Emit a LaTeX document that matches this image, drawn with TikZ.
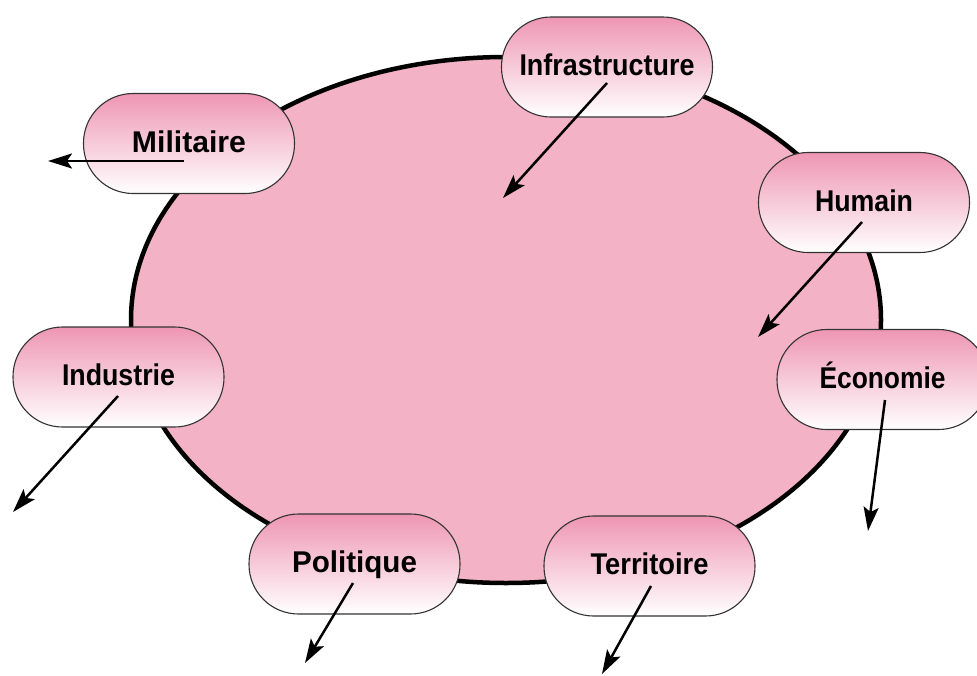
\documentclass[tikz,border=0pt]{standalone}
\usepackage{fontspec}
\setmainfont{Liberation Sans}
\usetikzlibrary{arrows.meta,shapes.geometric}
\definecolor{ellfill}{RGB}{244,178,199}
\definecolor{boxtop}{RGB}{238,150,180}
\newcommand{\boxlabel}[2]{\resizebox{#1pt}{\height}{#2}}
\begin{document}
\begin{tikzpicture}[x=1pt,y=-1pt,
  mainell/.style={ellipse, draw=black, line width=4.5pt, fill=ellfill, minimum width=750pt, minimum height=526pt, inner sep=0pt},
  catbox/.style={draw=black!80, line width=1.1pt, rounded corners=49.5pt, minimum width=211pt, minimum height=100pt, inner sep=0pt, top color=boxtop, bottom color=white},
  cattext/.style={anchor=base, inner sep=0pt, font=\fontsize{30pt}{32pt}\selectfont\bfseries},
  arr/.style={line width=2.5pt, -{Stealth[length=24pt,width=15pt,inset=5pt]}}]
\clip (0,0) rectangle (977,675);
\node[mainell] (ell) at (506,320) {};
% boxes
\node[catbox] (infra) at (607,67) {};
\node[catbox] (mil) at (189,143.5) {};
\node[catbox] (ind) at (118.5,377) {};
\node[catbox] (pol) at (354.5,564) {};
\node[catbox] (ter) at (649.5,566) {};
\node[catbox] (hum) at (864,202.5) {};
\node[catbox] (eco) at (882.5,379.5) {};
% labels
\node[cattext] (tinfra) at ([yshift=-8.5pt]infra.center) {\boxlabel{175}{Infrastructure}};
\node[cattext] (tmil) at ([yshift=-8.5pt]mil.center) {\boxlabel{114}{Militaire}};
\node[cattext] (tind) at ([yshift=-8.5pt]ind.center) {\boxlabel{113}{Industrie}};
\node[cattext] (tpol) at ([yshift=-8.5pt]pol.center) {\boxlabel{125}{Politique}};
\node[cattext] (tter) at ([yshift=-8.5pt]ter.center) {\boxlabel{118}{Territoire}};
\node[cattext] (thum) at ([yshift=-8.5pt]hum.center) {\boxlabel{98}{Humain}};
\node[cattext] (teco) at ([yshift=-8.5pt]eco.center) {\boxlabel{126}{Économie}};
% arrow ends
\coordinate (sinfra) at (607,83);  \coordinate (einfra) at (503,198);
\coordinate (smil) at (184,161);   \coordinate (emil) at (48,161);
\coordinate (sind) at (118,396);   \coordinate (eind) at (13,512);
\coordinate (spol) at (353,583);   \coordinate (epol) at (305,663);
\coordinate (ster) at (651,586);   \coordinate (eter) at (602,674);
\coordinate (shum) at (862,222);   \coordinate (ehum) at (758,337);
\coordinate (seco) at (885,400);   \coordinate (eeco) at (868,531);
\draw[arr] (sinfra) -- (einfra);
\draw[arr] (smil) -- (emil);
\draw[arr] (sind) -- (eind);
\draw[arr] (spol) -- (epol);
\draw[arr] (ster) -- (eter);
\draw[arr] (shum) -- (ehum);
\draw[arr] (seco) -- (eeco);
\end{tikzpicture}
\end{document}
